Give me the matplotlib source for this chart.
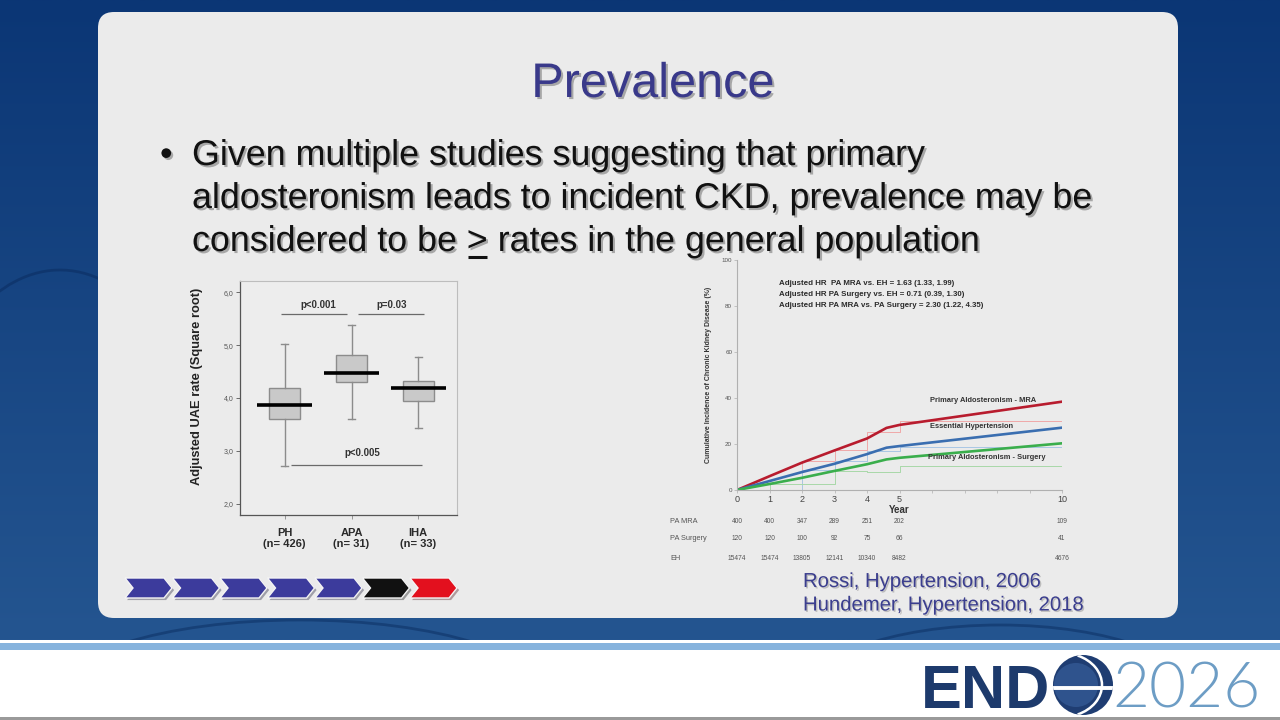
import numpy as np
import matplotlib
matplotlib.use("Agg")
import matplotlib.pyplot as plt
from matplotlib.patches import FancyBboxPatch, Polygon, Circle, Arc, Rectangle
from matplotlib.colors import to_rgb
import matplotlib.patheffects as pe

plt.rcParams['font.family'] = ['Liberation Sans', 'DejaVu Sans']

# ---------------- data ----------------
# Box plot (Rossi 2006)
box_groups = ["PH\n(n= 426)", "APA\n(n= 31)", "IHA\n(n= 33)"]
box_whislo = [2.72, 3.61, 3.43]
box_q1 = [3.60, 4.31, 3.94]
box_med = [3.87, 4.48, 4.19]
box_q3 = [4.19, 4.82, 4.33]
box_whishi = [5.02, 5.38, 4.77]
box_yticks = [2.0, 3.0, 4.0, 5.0, 6.0]
box_yticklabels = ["2,0", "3,0", "4,0", "5,0", "6,0"]
sig_labels = ["p<0.001", "p=0.03", "p<0.005"]
sig_y = [5.59, 5.59, 2.74]
sig_x0 = [0.94, 2.09, 1.10]
sig_x1 = [1.93, 3.09, 3.06]

# Cumulative incidence (Hundemer 2018)
km_years = [0, 1, 2, 3, 4, 4.6, 5, 10]
km_mra = [0, 6.0, 11.9, 17.2, 22.4, 27.0, 28.3, 38.4]
km_eh = [0, 3.9, 7.8, 11.4, 15.6, 18.4, 19.1, 27.1]
km_surg = [0, 2.6, 5.3, 8.3, 11.2, 13.3, 14.0, 20.3]
step_x_mra = [0, 2, 3, 4, 5, 10, 10]
step_mra = [0, 12.6, 17.3, 25.4, 30.2, 30.2, 38.4]
step_x_eh = [0, 2, 3, 4, 5, 10, 10]
step_eh = [0, 8.5, 12.8, 16.8, 18.8, 18.8, 27.1]
step_x_surg = [0, 1, 3, 4, 5, 10, 10]
step_surg = [0, 2.5, 8.4, 7.8, 10.4, 10.4, 20.3]
km_xticks = [0, 1, 2, 3, 4, 5, 10]
km_yticks = [0, 20, 40, 60, 80, 100]
risk_times = [0, 1, 2, 3, 4, 5, 10]
risk_labels = ["PA MRA", "PA Surgery", "EH"]
risk_mra = [400, 400, 347, 289, 251, 202, 109]
risk_surg = [120, 120, 100, 92, 75, 66, 41]
risk_eh = [15474, 15474, 13805, 12141, 10340, 8482, 4676]
hr_lines = ["Adjusted HR  PA MRA vs. EH = 1.63 (1.33, 1.99)",
            "Adjusted HR PA Surgery vs. EH = 0.71 (0.39, 1.30)",
            "Adjusted HR PA MRA vs. PA Surgery = 2.30 (1.22, 4.35)"]
curve_labels = ["Primary Aldosteronism - MRA", "Essential Hypertension",
                "Primary Aldosteronism - Surgery"]

title = "Prevalence"
bullet_lines = ["Given multiple studies suggesting that primary",
                "aldosteronism leads to incident CKD, prevalence may be"]
refs = ["Rossi, Hypertension, 2006", "Hundemer, Hypertension, 2018"]

# ---------------- figure ----------------
fig = plt.figure(figsize=(12.8, 7.2), dpi=100)
bg = fig.add_axes([0, 0, 1, 1], zorder=0)
bg.set_xlim(0, 1280)
bg.set_ylim(720, 0)
bg.axis('off')

# dark blue background gradient
grad = np.linspace(0, 1, 256)[:, None, None]
c0 = np.array(to_rgb('#0b3675'))
c1 = np.array(to_rgb('#245590'))
img = c0 + (c1 - c0) * grad
img = np.repeat(img, 2, axis=1)
bg.imshow(img, extent=[0, 1280, 640, 0], aspect='auto', zorder=0)
# faint decorative curves
for (cx, cy, w, h, t1, t2) in [(60, 520, 300, 500, 200, 330), (1230, 300, 260, 600, 120, 250),
                               (300, 700, 500, 160, 180, 360), (1000, 700, 400, 150, 180, 360)]:
    bg.add_patch(Arc((cx, cy), w, h, theta1=t1, theta2=t2, color='#08285a', lw=2, alpha=0.45, zorder=1))

# bottom white area and light blue band
bg.add_patch(Rectangle((0, 640), 1280, 80, fc='white', ec='none', zorder=1))
bg.add_patch(Rectangle((0, 642.5), 1280, 7.5, fc='#86b3dd', ec='none', zorder=1))
bg.add_patch(Rectangle((0, 716.5), 1280, 3.5, fc='#9a9a9a', ec='none', zorder=1))

# main panel
bg.add_patch(FancyBboxPatch((98, 12), 1080, 606, boxstyle='round,pad=0,rounding_size=16',
                            fc='#ebebeb', ec='none', zorder=2))

shadow = [pe.withSimplePatchShadow(offset=(1.5, -1.5), shadow_rgbFace='#555555', alpha=0.45)]

bg.text(653, 97, title, ha='center', va='baseline', fontsize=35, color='#39398a',
        path_effects=shadow, zorder=3)

fs = 25.8
bg.text(160, 165, "\u2022", ha='left', va='baseline', fontsize=fs, color='#111111',
        path_effects=shadow, zorder=3)
for i, line in enumerate(bullet_lines):
    bg.text(192, 165 + 43 * i, line, ha='left', va='baseline', fontsize=fs, color='#111111',
            path_effects=shadow, zorder=3)

renderer = fig.canvas.get_renderer()
t1 = bg.text(192, 251, "considered to be ", ha='left', va='baseline', fontsize=fs,
             color='#111111', path_effects=shadow, zorder=3)
bb1 = t1.get_window_extent(renderer)
xg = bb1.x1
t2 = bg.text(xg, 251, ">", ha='left', va='baseline', fontsize=fs, color='#111111',
             path_effects=shadow, zorder=3)
bb2 = t2.get_window_extent(renderer)
bg.plot([xg + 1, bb2.x1 - 1], [257, 257], color='#111111', lw=2.2, zorder=3, solid_capstyle='butt')
bg.text(bb2.x1, 251, " rates in the general population", ha='left', va='baseline', fontsize=fs,
        color='#111111', path_effects=shadow, zorder=3)

for i, r in enumerate(refs):
    bg.text(803, 587 + 23.5 * i, r, ha='left', va='baseline', fontsize=14.6, color='#3b3e8e',
            path_effects=[pe.withSimplePatchShadow(offset=(1, -1), shadow_rgbFace='#666666', alpha=0.35)],
            zorder=3)

# chevrons
chev_colors = ['#3c3b9c'] * 5 + ['#111111', '#e3101e']
for i, c in enumerate(chev_colors):
    x0 = 125 + i * 47.5
    pts = [(x0, 578), (x0 + 39, 578), (x0 + 47, 588), (x0 + 39, 598), (x0, 598), (x0 + 8, 588)]
    bg.add_patch(Polygon(pts, closed=True, fc=c, ec='#f4f4f4', lw=1.0, zorder=3,
                         path_effects=[pe.withSimplePatchShadow(offset=(1.5, -1.5), alpha=0.35)]))

# logo
bg.text(921, 708, "END", ha='left', va='baseline', fontsize=44, fontweight='bold',
        color='#1d3a6c', zorder=3)
globe = Circle((1083, 685), 30, fc='#1f3d72', ec='none', zorder=3)
bg.add_patch(globe)
lg = Circle((1076, 685), 22, fc='#3b63a0', ec='none', zorder=3, alpha=0.6)
bg.add_patch(lg)
lg.set_clip_path(globe)
hl = bg.plot([1050, 1116], [688, 688], color='white', lw=2.8, zorder=4)[0]
hl.set_clip_path(globe)
ar = Arc((1062, 685), 80, 64, theta1=-62, theta2=62, color='white', lw=1.8, zorder=4)
bg.add_patch(ar)
ar.set_clip_path(globe)
bg.text(1112, 708, "2026", ha='left', va='baseline', fontsize=46, fontweight=300,
        family=['Lato', 'Open Sans', 'Liberation Sans'], color='#6d9dc5', zorder=3)

# ---------------- box plot ----------------
ax1 = fig.add_axes([240 / 1280, (720 - 515) / 720, 217 / 1280, 234 / 720], zorder=5)
ax1.set_facecolor('#ededed')
pos = [1, 2, 3]
stats = []
for i in range(3):
    stats.append(dict(med=box_med[i], q1=box_q1[i], q3=box_q3[i],
                      whislo=box_whislo[i], whishi=box_whishi[i], fliers=[]))
ax1.bxp(stats, positions=pos, widths=0.46, patch_artist=True, showfliers=False,
        boxprops=dict(facecolor='#c9c9c9', edgecolor='#8c8c8c', linewidth=1.0),
        whiskerprops=dict(color='#8c8c8c', linewidth=1.0),
        capprops=dict(color='#8c8c8c', linewidth=1.0),
        medianprops=dict(linewidth=0), capwidths=0.1)
ax1.hlines(box_med, [p - 0.41 for p in pos], [p + 0.41 for p in pos], color='black', lw=2.6, zorder=4)
ax1.hlines(sig_y, sig_x0, sig_x1, color='#6a6a6a', lw=0.9)
sig_tx = [1.50, 2.60, 2.16]
sig_ty = [5.75, 5.75, 2.96]
for lab, tx, ty in zip(sig_labels, sig_tx, sig_ty):
    ax1.text(tx, ty, lab, ha='center', va='center', fontsize=7, fontweight='bold', color='#333333')
ax1.set_xlim(0.33, 3.58)
ax1.set_ylim(1.79, 6.21)
ax1.set_yticks(box_yticks)
ax1.set_yticklabels(box_yticklabels, fontsize=5, color='#555555')
ax1.set_xticks(pos)
ax1.set_xticklabels(box_groups, fontsize=8, fontweight='bold', color='#2a2a2a', linespacing=1.15)
ax1.tick_params(axis='y', length=3, width=0.6, color='#555555', pad=1.5)
ax1.tick_params(axis='x', length=3, width=0.6, color='#888888', pad=6)
ax1.set_ylabel("Adjusted UAE rate (Square root)", fontsize=9.3, fontweight='bold', color='#222222')
ax1.yaxis.set_label_coords(-0.17, 0.55)
for s in ['left', 'bottom']:
    ax1.spines[s].set_color('#555555')
    ax1.spines[s].set_linewidth(0.9)
for s in ['top', 'right']:
    ax1.spines[s].set_color('#bdbdbd')
    ax1.spines[s].set_linewidth(0.8)

# ---------------- cumulative incidence ----------------
ax2 = fig.add_axes([737 / 1280, 230 / 720, 325 / 1280, 230 / 720], zorder=5)
ax2.patch.set_alpha(0)
ax2.set_xlim(0, 10)
ax2.set_ylim(0, 100)
ax2.step(step_x_mra, step_mra, where='post', color='#f0a8a8', lw=0.7)
ax2.step(step_x_eh, step_eh, where='post', color='#a9c6e4', lw=0.7)
ax2.step(step_x_surg, step_surg, where='post', color='#a8d8a8', lw=0.7)
ax2.plot(km_years, km_mra, color='#b81c2e', lw=1.9, solid_capstyle='round')
ax2.plot(km_years, km_eh, color='#3a6eb0', lw=1.9, solid_capstyle='round')
ax2.plot(km_years, km_surg, color='#3aae4c', lw=1.9, solid_capstyle='round')
for s in ['top', 'right']:
    ax2.spines[s].set_visible(False)
for s in ['left', 'bottom']:
    ax2.spines[s].set_color('#b0b0b0')
    ax2.spines[s].set_linewidth(0.8)
ax2.set_xticks(km_xticks)
ax2.set_xticklabels([str(t) for t in km_xticks], fontsize=6.5, color='#444444')
ax2.set_xticks([6, 7, 8, 9], minor=True)
ax2.set_yticks(km_yticks)
ax2.set_yticklabels([str(t) for t in km_yticks], fontsize=4.5, color='#555555')
ax2.tick_params(axis='both', which='both', length=2, width=0.5, color='#b0b0b0', pad=1.5)
ax2.set_xlabel("Year", fontsize=7, fontweight='bold', color='#333333', labelpad=0.5)
ax2.set_ylabel("Cumulative Incidence of Chronic Kidney Disease (%)", fontsize=5,
               fontweight='bold', color='#333333')
ax2.yaxis.set_label_coords(-0.077, 0.5)
for i, line in enumerate(hr_lines):
    ax2.text(1.29, 90 - 4.8 * i, line, ha='left', va='center', fontsize=5.7, fontweight='bold',
             color='#2a2a2a')
lab_x = [5.94, 5.94, 5.88]
lab_y = [39.1, 27.4, 14.3]
for lab, lx, ly in zip(curve_labels, lab_x, lab_y):
    ax2.text(lx, ly, lab, ha='left', va='center', fontsize=5.4, fontweight='bold', color='#333333')
row_y = [-13.5, -21.3, -29.6]
for lab, ry, vals in zip(risk_labels, row_y, [risk_mra, risk_surg, risk_eh]):
    ax2.text(-2.06, ry, lab, ha='left', va='center', fontsize=5.3, color='#555555', clip_on=False)
    for t, v in zip(risk_times, vals):
        ax2.text(t, ry, str(v), ha='center', va='center', fontsize=4.8, color='#555555', clip_on=False)

fig.savefig('out.png', dpi=100)
